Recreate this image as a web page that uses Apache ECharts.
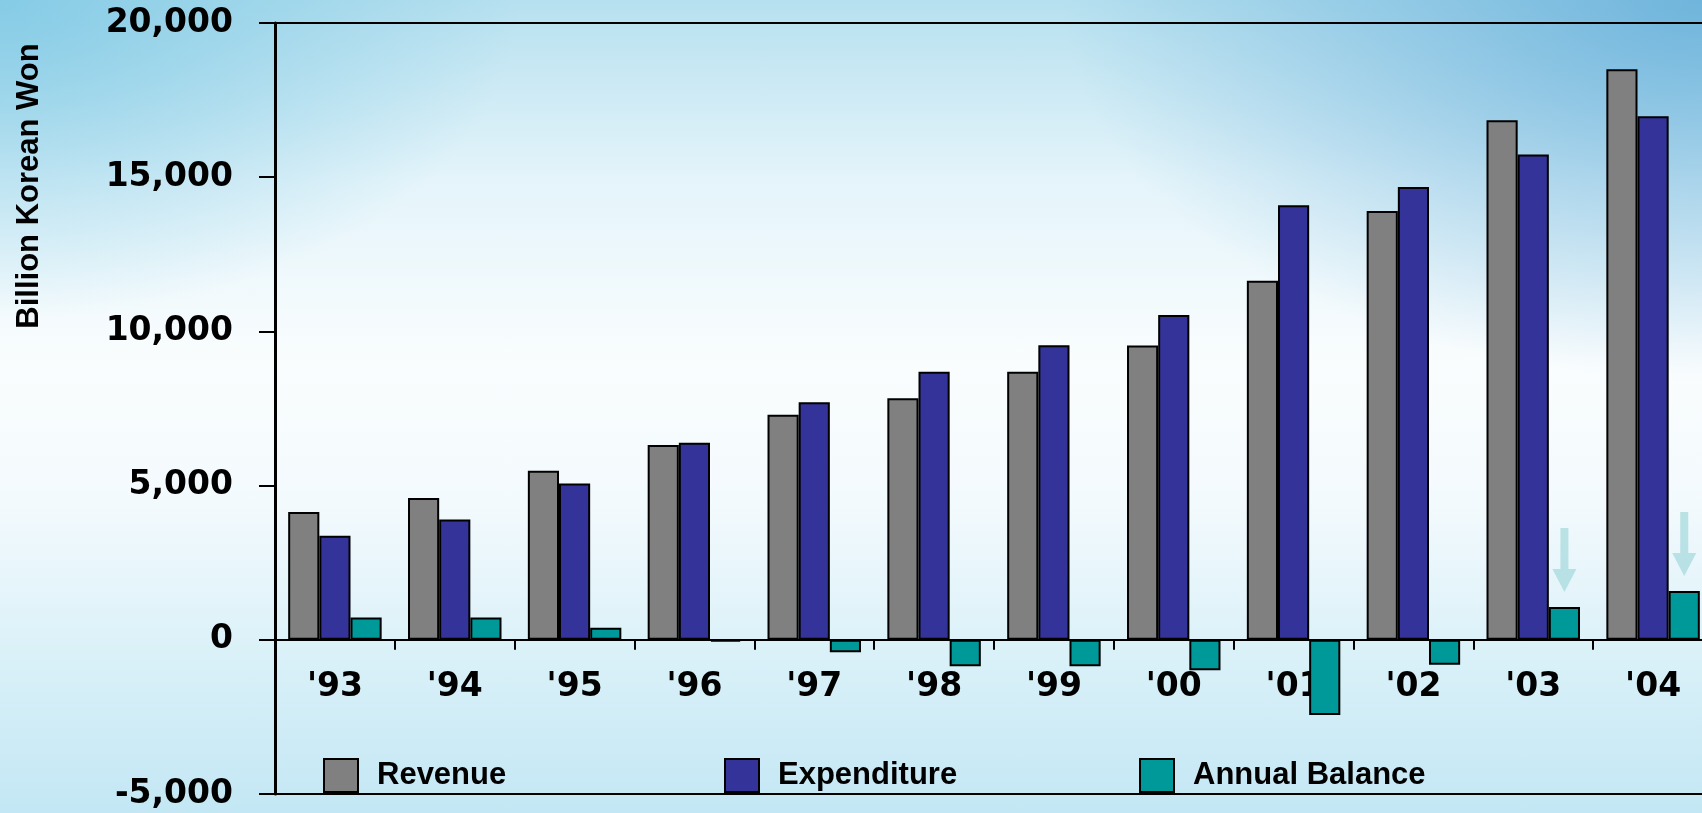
<!DOCTYPE html>
<html>
<head>
<meta charset="utf-8">
<title>Revenue, Expenditure and Annual Balance</title>
<script src="https://cdn.jsdelivr.net/npm/echarts@6/dist/echarts.min.js"></script>
<style>
  html, body { margin: 0; padding: 0; }
  body {
    width: 1702px; height: 813px; overflow: hidden;
    background:
      radial-gradient(ellipse 520px 320px at 0% 0%, rgba(125,200,228,0.85), rgba(125,200,228,0) 100%),
      radial-gradient(ellipse 640px 380px at 100% 0%, rgba(104,176,218,0.9), rgba(104,176,218,0) 100%),
      linear-gradient(to bottom, #b6e0ef 0%, #e4f4fa 22%, #fafdfe 45%, #f3fafd 62%, #d8f0f8 82%, #c3e7f4 100%);
  }
  #chart { width: 1702px; height: 813px; }
</style>
</head>
<body>
<div id="chart"></div>
<script>
// Fiscal years and amounts (billion Korean won)
const years = ["'93", "'94", "'95", "'96", "'97", "'98", "'99", "'00", "'01", "'02", "'03", "'04"];
const revenue = [4140, 4600, 5480, 6320, 7300, 7830, 8690, 9540, 11640, 13900, 16850, 18500];
const expenditure = [3370, 3900, 5070, 6390, 7700, 8690, 9550, 10530, 14090, 14680, 15740, 16980];
const balance = [720, 720, 390, -60, -400, -860, -860, -990, -2440, -810, 1060, 1580];
// Years whose surplus is highlighted with an arrow
const highlighted = ["'03", "'04"];

const yMin = -5000, yMax = 20000, yStep = 5000;

// Plot area margins
const W = 1702, H = 813;
const gridBox = { left: 275, right: -11, top: 23, bottom: 19 };
const plotHeight = H - gridBox.top - gridBox.bottom;
// The category axis sits on the zero line: shift it up from the bottom edge
const zeroOffset = -plotHeight * (0 - yMin) / (yMax - yMin);

const tickFont = { fontFamily: 'DejaVu Sans', fontWeight: 'bold', fontSize: 33, color: '#000' };
const legendFont = { fontFamily: 'Liberation Sans', fontWeight: 'bold', fontSize: 31, color: '#000', padding: [0, 0, 0, 14] };

const arrowPath = 'path://M8,0 L16,0 L16,41 L24,41 L12,64 L0,41 L8,41 Z';

function legendAt(name, left) {
  return {
    data: [name], left: left, top: 753, orient: 'horizontal',
    itemWidth: 34, itemHeight: 33, icon: 'rect',
    itemStyle: { borderColor: '#000', borderWidth: 2 },
    textStyle: legendFont, selectedMode: false
  };
}

const chart = echarts.init(document.getElementById('chart'), null, { renderer: 'canvas' });
chart.setOption({
  animation: false,
  backgroundColor: 'transparent',
  grid: Object.assign({
    show: true, borderColor: '#000', borderWidth: 2, backgroundColor: 'transparent',
    containLabel: false, outerBoundsMode: 'none'
  }, gridBox),
  legend: [
    legendAt('Revenue', 318),
    legendAt('Expenditure', 719),
    legendAt('Annual Balance', 1134)
  ],
  graphic: [{
    type: 'text', x: 29, y: 186, rotation: Math.PI / 2,
    style: {
      text: 'Billion Korean Won', fill: '#000',
      font: 'bold 31px "Liberation Sans"', align: 'center', verticalAlign: 'middle'
    }
  }],
  xAxis: {
    type: 'category', data: years, position: 'bottom', offset: zeroOffset,
    axisLine: { onZero: false, lineStyle: { color: '#000', width: 2 } },
    axisTick: { show: true, length: 10, lineStyle: { color: '#000', width: 2 } },
    axisLabel: Object.assign({ margin: 31, interval: 0 }, tickFont),
    splitLine: { show: false }
  },
  yAxis: {
    type: 'value', min: yMin, max: yMax, interval: yStep,
    axisLine: { show: true, lineStyle: { color: '#000', width: 3 } },
    axisTick: { show: true, length: 16, lineStyle: { color: '#000', width: 2 } },
    axisLabel: Object.assign({
      margin: 42,
      formatter: v => v.toLocaleString('en-US')
    }, tickFont),
    splitLine: { show: false }
  },
  series: [
    {
      name: 'Revenue', type: 'bar', data: revenue,
      barGap: '0%', barCategoryGap: '22%',
      itemStyle: { color: '#808080', borderColor: '#000', borderWidth: 2 }
    },
    {
      name: 'Expenditure', type: 'bar', data: expenditure,
      barGap: '0%', barCategoryGap: '22%',
      itemStyle: { color: '#333399', borderColor: '#000', borderWidth: 2 }
    },
    {
      name: 'Annual Balance', type: 'bar', data: balance,
      barGap: '0%', barCategoryGap: '22%',
      itemStyle: { color: '#009999', borderColor: '#000', borderWidth: 2 },
      markPoint: {
        symbol: arrowPath, symbolSize: [24, 64], symbolOffset: [0, -47],
        symbolKeepAspect: false,
        itemStyle: { color: '#b3dfe2', opacity: 0.9 },
        label: { show: false }, silent: true,
        data: highlighted.map(y => ({ coord: [y, balance[years.indexOf(y)]] }))
      }
    }
  ]
});
</script>
</body>
</html>
